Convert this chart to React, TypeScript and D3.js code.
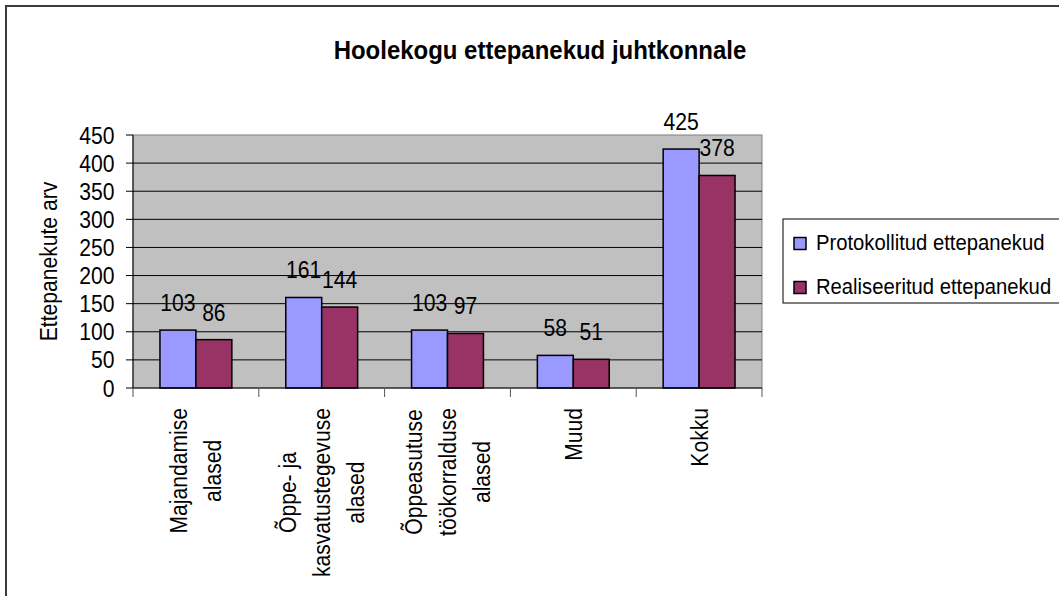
import React, { useEffect, useRef } from "react";
import * as d3 from "d3";

const title = "Hoolekogu ettepanekud juhtkonnale";
const yTitle = "Ettepanekute arv";
const categories = [
  "Majandamise\nalased",
  "Õppe- ja\nkasvatustegevuse\nalased",
  "Õppeasutuse\ntöökorralduse\nalased",
  "Muud",
  "Kokku",
];
const seriesNames = ["Protokollitud ettepanekud", "Realiseeritud ettepanekud"];
const protokollitud = [103, 161, 103, 58, 425];
const realiseeritud = [86, 144, 97, 51, 378];
const yTicks = [0, 50, 100, 150, 200, 250, 300, 350, 400, 450];
const colors = ["#9999FF", "#993366"];

const FONT = "'Liberation Sans', Arial, sans-serif";
const SX = 0.88;
const FS = 24;

export default function App() {
  const ref = useRef<SVGSVGElement | null>(null);

  useEffect(() => {
    const svg = d3.select(ref.current);
    svg.selectAll("*").remove();

    const left = 133, right = 762, top = 135, bottom = 388;
    const x = d3.scaleBand<string>().domain(categories).range([left, right]).padding(0);
    const xs = d3
      .scaleBand<string>()
      .domain(seriesNames)
      .range([0, x.bandwidth()])
      .paddingInner(0)
      .paddingOuter(0.75);
    const y = d3.scaleLinear().domain([0, 450]).range([bottom, top]);

    // outer frame
    svg.append("rect").attr("x", 6).attr("y", 6).attr("width", 1100).attr("height", 700)
      .attr("fill", "white").attr("stroke", "#3a3a3a").attr("stroke-width", 2);

    // title
    svg.append("text").attr("transform", `translate(540,59) scale(0.94,1)`).attr("text-anchor", "middle")
      .attr("font-family", FONT).attr("font-size", 25.5).attr("font-weight", "bold")
      .text(title);

    // plot area
    svg.append("rect").attr("x", left).attr("y", top).attr("width", right - left)
      .attr("height", bottom - top).attr("fill", "#C0C0C0").attr("stroke", "#808080").attr("stroke-width", 1);

    // gridlines
    svg.append("g").selectAll("line").data(yTicks.filter((t) => t > 0 && t < 450)).join("line")
      .attr("x1", left).attr("x2", right).attr("y1", (d) => y(d)).attr("y2", (d) => y(d))
      .attr("stroke", "black").attr("stroke-width", 1);

    // y axis
    svg.append("line").attr("x1", left).attr("x2", left).attr("y1", top).attr("y2", bottom)
      .attr("stroke", "black").attr("stroke-width", 1);
    svg.append("g").selectAll("line").data(yTicks).join("line")
      .attr("x1", left - 7).attr("x2", left).attr("y1", (d) => y(d)).attr("y2", (d) => y(d))
      .attr("stroke", "black").attr("stroke-width", 1);
    svg.append("g").selectAll("text").data(yTicks).join("text")
      .attr("transform", (d) => `translate(114.5,${y(d) + 8.6}) scale(${SX},1)`)
      .attr("text-anchor", "end").attr("font-family", FONT).attr("font-size", FS)
      .text((d) => String(d));

    // y title
    svg.append("text")
      .attr("transform", `translate(57,${(top + bottom) / 2}) rotate(-90) scale(${SX},1)`)
      .attr("text-anchor", "middle").attr("font-family", FONT).attr("font-size", FS)
      .text(yTitle);

    // bars
    const series = [protokollitud, realiseeritud];
    series.forEach((vals, si) => {
      const g = svg.append("g");
      g.selectAll("rect").data(vals).join("rect")
        .attr("x", (_, i) => (x(categories[i]) as number) + (xs(seriesNames[si]) as number))
        .attr("y", (d) => y(d))
        .attr("width", xs.bandwidth())
        .attr("height", (d) => bottom - y(d))
        .attr("fill", colors[si]).attr("stroke", "black").attr("stroke-width", 1.5);
      g.selectAll("text").data(vals).join("text")
        .attr("transform", (d, i) => {
          const cx = (x(categories[i]) as number) + (xs(seriesNames[si]) as number) + xs.bandwidth() / 2;
          return `translate(${cx},${y(d) - 19}) scale(${SX},1)`;
        })
        .attr("text-anchor", "middle").attr("font-family", FONT).attr("font-size", FS)
        .text((d) => String(d));
    });

    // x axis
    svg.append("line").attr("x1", left).attr("x2", right).attr("y1", bottom).attr("y2", bottom)
      .attr("stroke", "black").attr("stroke-width", 1);
    const bounds = categories.map((c) => x(c) as number).concat([right]);
    svg.append("g").selectAll("line").data(bounds).join("line")
      .attr("x1", (d) => d).attr("x2", (d) => d).attr("y1", bottom).attr("y2", bottom + 9)
      .attr("stroke", "#555").attr("stroke-width", 1);

    // x labels (rotated, multi-line, centered)
    const labelTop = 408;
    const lineGap = 34;
    categories.forEach((c) => {
      const lines = c.split("\n");
      const cx = (x(c) as number) + x.bandwidth() / 2;
      const g = svg.append("g");
      const texts = lines.map((ln, li) => {
        const bx = cx + (li - (lines.length - 1) / 2) * lineGap + 8.5;
        return g.append("text")
          .attr("text-anchor", "middle").attr("font-family", FONT).attr("font-size", FS)
          .attr("data-bx", bx)
          .text(ln);
      });
      const lens = texts.map((t) => (t.node() as SVGTextElement).getComputedTextLength() * SX);
      const maxLen = d3.max(lens) || 0;
      texts.forEach((t) => {
        const bx = +t.attr("data-bx");
        t.attr("transform", `translate(${bx},${labelTop + maxLen / 2}) rotate(-90) scale(${SX},1)`);
        t.attr("data-bx", null);
      });
    });

    // legend
    svg.append("rect").attr("x", 783).attr("y", 219).attr("width", 320).attr("height", 84)
      .attr("fill", "white").attr("stroke", "black").attr("stroke-width", 1);
    seriesNames.forEach((name, i) => {
      const yy = 249.5 + i * 44;
      svg.append("rect").attr("x", 794).attr("y", yy - 12).attr("width", 12).attr("height", 12)
        .attr("fill", colors[i]).attr("stroke", "black").attr("stroke-width", 1.5);
      svg.append("text").attr("transform", `translate(816,${yy}) scale(0.9,1)`)
        .attr("font-family", FONT).attr("font-size", 22.5).text(name);
    });
  }, []);

  return (
    <svg
      ref={ref}
      width={1059}
      height={596}
      style={{ position: "absolute", left: 0, top: 0, background: "white" }}
    />
  );
}
